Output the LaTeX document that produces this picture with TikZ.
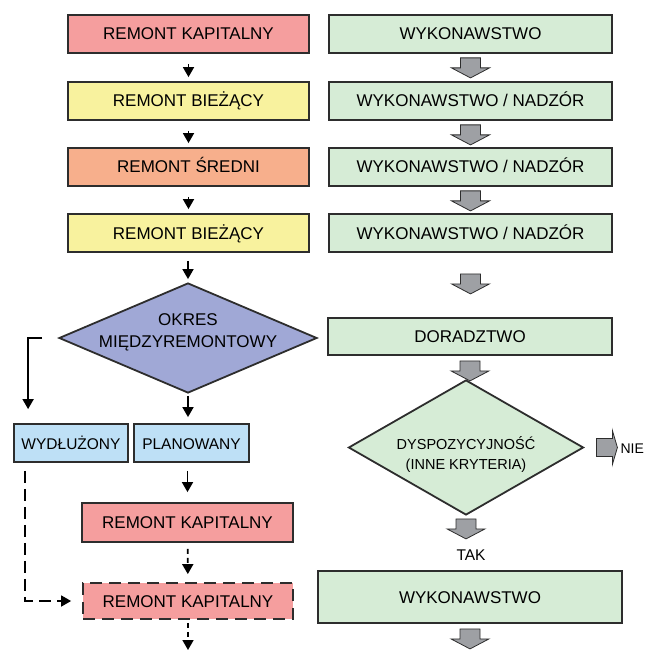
\documentclass[tikz,border=0pt]{standalone}
\usepackage{fontspec}
\setmainfont{Liberation Sans}
\usetikzlibrary{calc,arrows.meta,shapes.geometric}
\definecolor{kapital}{RGB}{245,158,158}
\definecolor{biezacy}{RGB}{248,242,158}
\definecolor{sredni}{RGB}{247,175,140}
\definecolor{zielony}{RGB}{214,236,214}
\definecolor{okres}{RGB}{160,168,214}
\definecolor{niebieski}{RGB}{190,224,246}
\definecolor{szary}{RGB}{158,160,164}
\definecolor{ramka}{RGB}{45,45,45}
\def\grayarrow#1#2{\draw[grayarr] ($(#1)+(-10,#2)$) -- ++(20,0) -- ++(0,10) -- ++(9,0) -- ++(-19,10) -- ++(-19,-10) -- ++(9,0) -- cycle;}

\begin{document}
\begin{tikzpicture}[x=1pt,y=-1pt,
  box/.style={draw=ramka,line width=1.8pt,inner sep=0pt,text height=12pt,text depth=0pt,
    font=\fontsize{17}{20}\selectfont},
  lbox/.style={box,minimum width=241pt,minimum height=38pt},
  rbox/.style={box,fill=zielony,minimum width=283pt,minimum height=38pt},
  sbox/.style={box,fill=niebieski,minimum width=114pt,minimum height=38pt,font=\fontsize{15.5}{18}\selectfont},
  decision/.style={diamond,draw=ramka,line width=1.8pt,inner sep=0pt},
  arr/.style={line width=1.7pt,-{Triangle[length=10pt,width=11pt]}},
  dasharr/.style={arr,dash pattern=on 12pt off 6pt},
  dotarr/.style={arr,dash pattern=on 5pt off 4pt},
  grayarr/.style={draw=ramka,line width=0.8pt,fill=szary},
  lbl/.style={font=\fontsize{15.5}{18}\selectfont}]
\useasboundingbox (0,0) rectangle (644,652);
%%%%% left column
\node[lbox,fill=kapital] (k1) at (188.5,34) {REMONT KAPITALNY};
\node[lbox,fill=biezacy] (k2) at (188.5,101) {REMONT BIEŻĄCY};
\node[lbox,fill=sredni] (k3) at (188.5,167) {REMONT ŚREDNI};
\node[lbox,fill=biezacy] (k4) at (188.5,233) {REMONT BIEŻĄCY};
\node[decision,fill=okres,aspect=2.345,minimum width=258pt,minimum height=110pt] (d1) at (188,338) {};
\node[align=center,font=\fontsize{17}{22}\selectfont] (d1t) at ($(d1)+(0,-6)$) {OKRES\\MIĘDZYREMONTOWY};
\node[sbox] (wy) at (71,443) {WYDŁUŻONY};
\node[sbox,minimum width=115pt] (pl) at (191.5,443) {PLANOWANY};
\node[box,fill=kapital,minimum width=211pt,minimum height=39pt] (k5) at (187.5,522.5) {REMONT KAPITALNY};
\node[box,fill=kapital,dash pattern=on 12pt off 7pt,minimum width=210pt,minimum height=36pt] (k6) at (188,601) {REMONT KAPITALNY};
\coordinate (kend) at (188,652);

\draw[arr,shorten <=10pt,shorten >=4pt] (k1) -- (k2);
\draw[arr,shorten <=10pt,shorten >=4pt] (k2) -- (k3);
\draw[arr,shorten <=10pt,shorten >=4pt] (k3) -- (k4);
\draw[arr,shorten <=8pt,shorten >=3pt] (k4.south -| d1.north) -- (d1.north);
\draw[arr,shorten <=2pt,shorten >=6pt] (d1.south) -- (d1.south |- pl.north);
\draw[arr] ([xshift=-16pt]d1.west) -| ($(wy.north west)+(15,-14)$);
\draw[arr,shorten <=8pt,shorten >=10pt] (pl.south -| k5.north) -- (k5.north);
\draw[dotarr,shorten <=6pt,shorten >=8pt] (k5) -- (k6);
\draw[dasharr] ($(wy.south west)+(12,8)$) |- ([xshift=-11pt]k6.west);
\draw[dotarr,shorten <=3pt,shorten >=2pt] (k6) -- (kend);

%%%%% right column
\node[rbox] (w1) at (470.5,34) {WYKONAWSTWO};
\node[rbox] (w2) at (470.5,101) {WYKONAWSTWO / NADZÓR};
\node[rbox] (w3) at (470.5,167) {WYKONAWSTWO / NADZÓR};
\node[rbox] (w4) at (470.5,233) {WYKONAWSTWO / NADZÓR};
\node[rbox,minimum width=284pt,minimum height=37pt] (dor) at (470,336.5) {DORADZTWO};
\node[decision,fill=zielony,aspect=1.74,minimum width=235pt,minimum height=135pt] (d2) at (466,447.5) {};
\node[align=center,font=\fontsize{14.5}{20}\selectfont] (d2t) at ($(d2)+(0,7)$) {DYSPOZYCYJNOŚĆ\\(INNE KRYTERIA)};
\node[lbl] (tak) at (471,555) {TAK};
\node[anchor=west,inner sep=0pt,font=\fontsize{14}{17}\selectfont] (nie) at ($(d2.east)+(36,1)$) {NIE};
\node[rbox,minimum width=304pt,minimum height=52pt] (w5) at (470,597) {WYKONAWSTWO};

\grayarrow{w1.south}{4}
\grayarrow{w2.south}{4}
\grayarrow{w3.south}{4}
\grayarrow{w4.south}{21}
\grayarrow{dor.south}{5}
\grayarrow{d2.south}{3}
\grayarrow{w5.south}{5}
\draw[grayarr] ($(d2.east)+(12,-9)$) -- ++(16,0) -- ++(0,-8) -- ++(5,17) -- ++(-5,17) -- ++(0,-8) -- ++(-16,0) -- cycle;
\end{tikzpicture}
\end{document}
